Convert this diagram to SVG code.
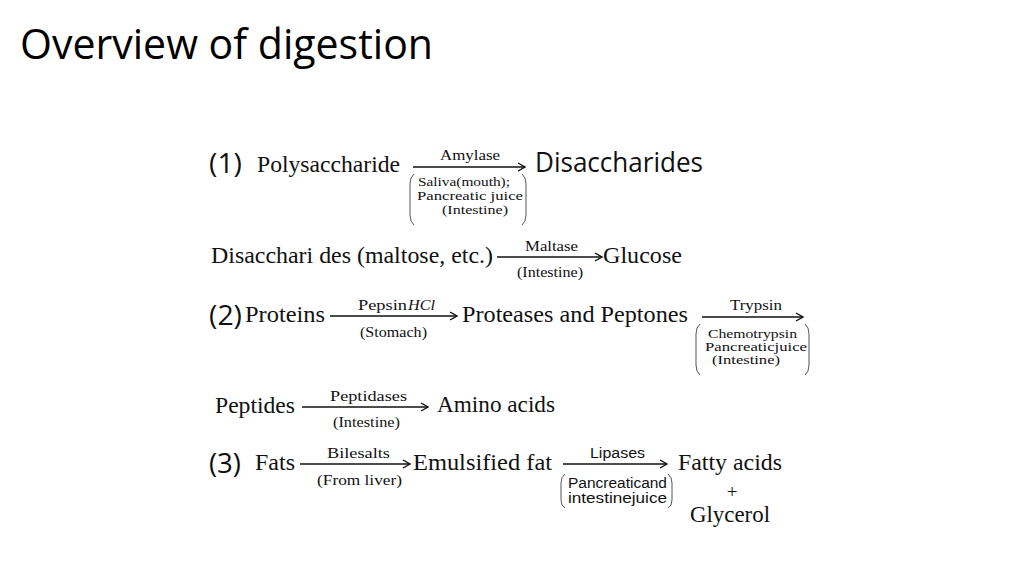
<svg xmlns="http://www.w3.org/2000/svg" width="1024" height="576" viewBox="0 0 1024 576">
<defs>
<style>
.t{font-family:"Liberation Serif","Times New Roman",serif;fill:#111}
.m{font-size:23px}
.s{font-size:15px}
.xs{font-size:13.5px}
.ss{font-family:"Liberation Sans",Arial,sans-serif;font-size:14px;fill:#111}
.n{font-family:"Open Sans","Noto Sans",sans-serif;fill:#111}
.title{font-family:"Open Sans","Noto Sans",sans-serif;font-size:42px;fill:#000}
.arr{stroke:#111;stroke-width:1.4;fill:none}
.br{stroke:#555;stroke-width:1;fill:none}
</style>
<marker id="ah" markerUnits="userSpaceOnUse" markerWidth="12" markerHeight="12" refX="8" refY="5" orient="auto">
<path d="M1,1 L8,5 L1,9" fill="none" stroke="#111" stroke-width="1.4"/>
</marker>
</defs>
<rect width="1024" height="576" fill="#fff"/>
<text class="title" x="20" y="59" textLength="413" lengthAdjust="spacingAndGlyphs">Overview of digestion</text>

<!-- Row 1 -->
<g id="n-label1"><text class="n" font-size="28" x="209" y="173" textLength="33" lengthAdjust="spacingAndGlyphs">(1)</text></g>
<g id="n-polysaccharide"><text class="t m" x="257" y="172" textLength="143" lengthAdjust="spacingAndGlyphs">Polysaccharide</text></g>
<g id="n-disaccharides"><text class="n" font-size="28" x="535" y="172" textLength="168" lengthAdjust="spacingAndGlyphs">Disaccharides</text></g>

<!-- Row 2 -->
<g id="n-disaccharides2"><text class="t m" x="211" y="263" textLength="282" lengthAdjust="spacingAndGlyphs">Disacchari des (maltose, etc.)</text></g>
<g id="n-glucose"><text class="t m" x="603" y="263" textLength="79" lengthAdjust="spacingAndGlyphs">Glucose</text></g>

<!-- Row 3 -->
<g id="n-label2"><text class="n" font-size="28" x="209" y="325" textLength="33" lengthAdjust="spacingAndGlyphs">(2)</text></g>
<g id="n-proteins"><text class="t m" x="245" y="322" textLength="80" lengthAdjust="spacingAndGlyphs">Proteins</text></g>
<g id="n-proteases"><text class="t m" x="462" y="322" textLength="226" lengthAdjust="spacingAndGlyphs">Proteases and Peptones</text></g>

<!-- Row 4 -->
<g id="n-peptides"><text class="t m" x="215" y="413" textLength="80" lengthAdjust="spacingAndGlyphs">Peptides</text></g>
<g id="n-amino"><text class="t m" x="437" y="412" textLength="118" lengthAdjust="spacingAndGlyphs">Amino acids</text></g>

<!-- Row 5 -->
<g id="n-label3"><text class="n" font-size="28" x="209" y="473" textLength="32" lengthAdjust="spacingAndGlyphs">(3)</text></g>
<g id="n-fats"><text class="t m" x="255" y="470" textLength="40" lengthAdjust="spacingAndGlyphs">Fats</text></g>
<g id="n-emulsified"><text class="t m" x="413" y="470" textLength="139" lengthAdjust="spacingAndGlyphs">Emulsified fat</text></g>
<g id="n-products">
<text class="t m" x="678" y="470" textLength="104" lengthAdjust="spacingAndGlyphs">Fatty acids</text>
<text class="t" font-size="19" x="732" y="498" text-anchor="middle">+</text>
<text class="t m" x="690" y="522" textLength="80" lengthAdjust="spacingAndGlyphs">Glycerol</text>
</g>

<g id="connectors">
<g id="c-amylase">
<line class="arr" x1="413" y1="167" x2="525" y2="167" marker-end="url(#ah)"/>
<text class="t s" x="440" y="160" textLength="60" lengthAdjust="spacingAndGlyphs">Amylase</text>
<path class="br" d="M414,174 Q410,177 410,184 L410,215 Q410,222 414,225"/>
<path class="br" d="M522,174 Q526,177 526,184 L526,215 Q526,222 522,225"/>
<text class="t xs" x="418" y="186" textLength="92" lengthAdjust="spacingAndGlyphs">Saliva(mouth);</text>
<text class="t xs" x="417" y="200" textLength="106" lengthAdjust="spacingAndGlyphs">Pancreatic juice</text>
<text class="t xs" x="442" y="214" textLength="66" lengthAdjust="spacingAndGlyphs">(Intestine)</text>
</g>
<g id="c-maltase">
<line class="arr" x1="497" y1="257" x2="602" y2="257" marker-end="url(#ah)"/>
<text class="t s" x="525" y="251" textLength="53" lengthAdjust="spacingAndGlyphs">Maltase</text>
<text class="t s" x="517" y="277" textLength="66" lengthAdjust="spacingAndGlyphs">(Intestine)</text>
</g>
<g id="c-pepsin">
<line class="arr" x1="330" y1="316" x2="457" y2="316" marker-end="url(#ah)"/>
<text class="t s" x="358" y="310" textLength="49" lengthAdjust="spacingAndGlyphs">Pepsin</text>
<text class="t s" font-style="italic" x="408" y="310" textLength="27" lengthAdjust="spacingAndGlyphs">HCl</text>
<text class="t s" x="360" y="337" textLength="67" lengthAdjust="spacingAndGlyphs">(Stomach)</text>
</g>
<g id="c-trypsin">
<line class="arr" x1="702" y1="317" x2="803" y2="317" marker-end="url(#ah)"/>
<text class="t s" x="730" y="310" textLength="52" lengthAdjust="spacingAndGlyphs">Trypsin</text>
<path class="br" d="M700,324 Q696,327 696,334 L696,365 Q696,372 700,375"/>
<path class="br" d="M805,324 Q809,327 809,334 L809,365 Q809,372 805,375"/>
<text class="t" font-size="12.5" x="708" y="338" textLength="89" lengthAdjust="spacingAndGlyphs">Chemotrypsin</text>
<text class="t" font-size="12.5" x="705" y="351" textLength="102" lengthAdjust="spacingAndGlyphs">Pancreaticjuice</text>
<text class="t" font-size="12.5" x="712" y="364" textLength="68" lengthAdjust="spacingAndGlyphs">(Intestine)</text>
</g>
<g id="c-peptidases">
<line class="arr" x1="302" y1="407" x2="428" y2="407" marker-end="url(#ah)"/>
<text class="t s" x="330" y="401" textLength="77" lengthAdjust="spacingAndGlyphs">Peptidases</text>
<text class="t s" x="333" y="427" textLength="67" lengthAdjust="spacingAndGlyphs">(Intestine)</text>
</g>
<g id="c-bilesalts">
<line class="arr" x1="300" y1="464" x2="410" y2="464" marker-end="url(#ah)"/>
<text class="t s" x="327" y="458" textLength="63" lengthAdjust="spacingAndGlyphs">Bilesalts</text>
<text class="t s" x="317" y="485" textLength="85" lengthAdjust="spacingAndGlyphs">(From liver)</text>
</g>
<g id="c-lipases">
<line class="arr" x1="563" y1="464" x2="667" y2="464" marker-end="url(#ah)"/>
<text class="ss" x="590" y="458" textLength="55" lengthAdjust="spacingAndGlyphs">Lipases</text>
<path class="br" d="M565,474 Q561,477 561,483 L561,500 Q561,506 565,508"/>
<path class="br" d="M668,474 Q672,477 672,483 L672,500 Q672,506 668,508"/>
<text class="ss" x="568" y="488" textLength="99" lengthAdjust="spacingAndGlyphs">Pancreaticand</text>
<text class="ss" x="568" y="503" textLength="99" lengthAdjust="spacingAndGlyphs">intestinejuice</text>
</g>
</g>
</svg>
